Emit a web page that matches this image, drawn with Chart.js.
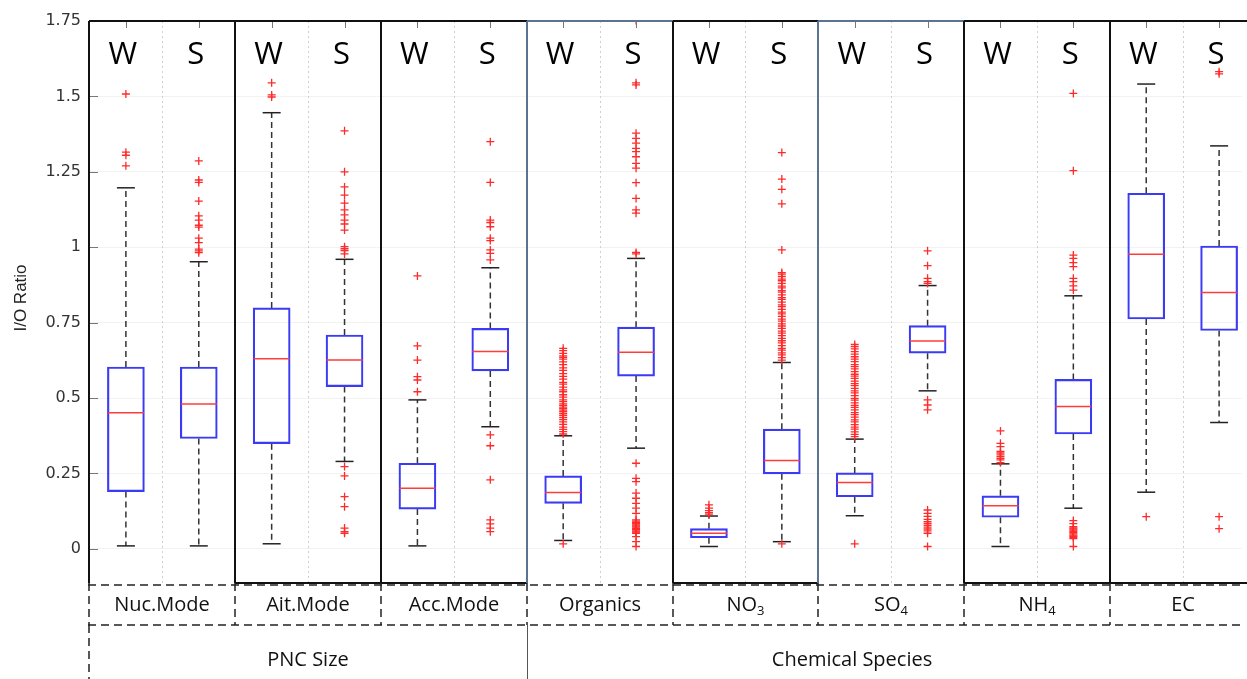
<!DOCTYPE html>
<html>
<head>
<meta charset="utf-8">
<script src="https://cdn.jsdelivr.net/npm/chart.js@4.4.1/dist/chart.umd.min.js"></script>
<style>
body{margin:0;background:#fff;overflow:hidden;}
#wrap{width:1247px;height:679px;position:relative;}
</style>
</head>
<body>
<div id="wrap"><canvas id="ioChart"></canvas></div>
<script>
// categories along the bottom, each with a winter (W) and summer (S) box
const categories = ['Nuc.Mode','Ait.Mode','Acc.Mode','Organics','NO','SO','NH','EC'];
const categorySub = ['','','','','3','4','4',''];
const seasons = ['W','S'];
const groupNames = ['PNC Size','Chemical Species'];
const groupSpan = [3,5];

const yTicks = [0,0.25,0.5,0.75,1,1.25,1.5,1.75];
const yTickLabels = ['0','0.25','0.5','0.75','1','1.25','1.5','1.75'];

// box statistics, order: Nuc W, Nuc S, Ait W, Ait S, ... EC W, EC S
const whiskerLow  = [0.010,0.010,0.017,0.290,0.010,0.405,0.028,0.334,0.008,0.024,0.110,0.524,0.008,0.135,0.188,0.419];
const q1          = [0.190,0.366,0.349,0.538,0.132,0.590,0.151,0.573,0.037,0.249,0.173,0.649,0.105,0.381,0.762,0.724];
const median      = [0.451,0.480,0.630,0.626,0.201,0.654,0.187,0.652,0.052,0.293,0.220,0.689,0.143,0.472,0.977,0.850];
const q3          = [0.603,0.603,0.799,0.709,0.284,0.731,0.242,0.735,0.067,0.397,0.252,0.740,0.176,0.562,1.179,1.004];
const whiskerHigh = [1.197,0.952,1.446,0.960,0.494,0.932,0.375,0.963,0.109,0.618,0.364,0.873,0.282,0.839,1.541,1.336];

const outliers = [
  [1.508,1.315,1.305,1.270],
  [1.286,1.223,1.215,1.153,1.104,1.090,1.073,1.067,1.030,1.015,0.994,0.988,0.982],
  [1.545,1.505,1.498],
  [1.386,1.250,1.200,1.173,1.146,1.124,1.107,1.090,1.077,1.057,1.002,0.995,0.989,0.978,
   0.273,0.242,0.173,0.140,0.069,0.057,0.052],
  [0.905,0.673,0.626,0.571,0.560,0.521],
  [1.350,1.215,1.090,1.082,1.068,1.030,1.022,0.991,0.980,0.958,
   0.378,0.342,0.229,0.096,0.083,0.069,0.057],
  [0.665,0.657,0.648,0.640,0.635,0.629,0.620,0.611,0.600,0.592,0.581,0.572,0.563,0.552,0.546,0.536,
   0.527,0.521,0.511,0.503,0.494,0.488,0.481,0.476,0.470,0.465,0.460,0.455,0.449,0.443,0.436,0.429,
   0.421,0.413,0.404,0.396,0.389,0.381,0.017],
  [1.752,1.545,1.538,1.378,1.361,1.345,1.328,1.317,1.300,1.278,1.262,1.214,1.162,1.124,1.113,0.983,0.978,
   0.284,0.234,0.223,0.185,0.168,0.151,0.135,0.118,0.096,0.092,0.088,0.084,0.080,0.076,0.072,0.068,
   0.064,0.060,0.056,0.052,0.041,0.024,0.008],
  [0.146,0.135,0.127,0.120,0.115],
  [1.314,1.226,1.192,1.144,0.991,0.916,0.911,0.903,0.894,0.889,0.880,0.871,0.865,0.856,0.851,0.842,
   0.833,0.827,0.818,0.809,0.803,0.794,0.785,0.779,0.771,0.762,0.755,0.746,0.739,0.731,0.722,0.715,
   0.707,0.698,0.690,0.683,0.674,0.665,0.659,0.650,0.643,0.634,0.626,0.017],
  [0.678,0.671,0.663,0.654,0.646,0.637,0.629,0.621,0.611,0.604,0.597,0.588,0.579,0.573,0.565,0.556,
   0.548,0.541,0.532,0.524,0.517,0.508,0.499,0.493,0.484,0.476,0.469,0.461,0.452,0.445,0.437,0.428,
   0.421,0.412,0.404,0.397,0.388,0.380,0.372,0.017],
  [0.988,0.939,0.897,0.886,0.880,0.494,0.477,0.461,
   0.129,0.118,0.108,0.098,0.090,0.084,0.078,0.072,0.066,0.060,0.052,0.008],
  [0.391,0.350,0.339,0.323,0.318,0.312,0.306,0.300,0.295,0.286],
  [1.510,1.254,0.974,0.963,0.949,0.936,0.897,0.886,0.872,0.858,
   0.094,0.084,0.074,0.070,0.066,0.062,0.058,0.054,0.050,0.046,0.042,0.038,0.034,0.008],
  [0.107],
  [1.582,1.575,0.107,0.067]
];

const boxData = q1.map((v,i) => ({x: i+1, y: [v, q3[i]]}));
let outlierData = [];
outliers.forEach((list,i) => list.forEach(v => outlierData.push({x: i+1, y: v})));

function seg(ctx,x1,y1,x2,y2){
  ctx.beginPath(); ctx.moveTo(x1,y1); ctx.lineTo(x2,y2); ctx.stroke();
}

const boxParts = {
  id: 'boxParts',
  beforeDatasetsDraw(chart){
    const ctx = chart.ctx, a = chart.chartArea, x = chart.scales.x, y = chart.scales.y;
    ctx.save();
    // dotted separators between the W and S boxes
    ctx.strokeStyle = '#cfcfcf'; ctx.lineWidth = 1; ctx.setLineDash([2,3]);
    for(let k=0;k<categories.length;k++){
      const px = Math.round(x.getPixelForValue(2*k+1.5)) + 0.5;
      seg(ctx,px,a.top,px,a.bottom);
    }
    // whiskers
    ctx.strokeStyle = '#333'; ctx.lineWidth = 1.5; ctx.setLineDash([6,4]);
    for(let i=0;i<q1.length;i++){
      const px = x.getPixelForValue(i+1);
      seg(ctx,px,y.getPixelForValue(q3[i]),px,y.getPixelForValue(whiskerHigh[i]));
      seg(ctx,px,y.getPixelForValue(q1[i]),px,y.getPixelForValue(whiskerLow[i]));
    }
    ctx.setLineDash([]); ctx.strokeStyle = '#222';
    for(let i=0;i<q1.length;i++){
      const px = x.getPixelForValue(i+1);
      seg(ctx,px-9,y.getPixelForValue(whiskerHigh[i]),px+9,y.getPixelForValue(whiskerHigh[i]));
      seg(ctx,px-9,y.getPixelForValue(whiskerLow[i]),px+9,y.getPixelForValue(whiskerLow[i]));
    }
    ctx.restore();
  },
  afterDatasetsDraw(chart){
    const ctx = chart.ctx, x = chart.scales.x, y = chart.scales.y;
    ctx.save();
    ctx.strokeStyle = '#ff3b3b'; ctx.lineWidth = 1.5;
    for(let i=0;i<median.length;i++){
      const px = x.getPixelForValue(i+1), py = y.getPixelForValue(median[i]);
      seg(ctx,px-18,py,px+18,py);
    }
    ctx.restore();
  },
  afterDraw(chart){
    const ctx = chart.ctx, a = chart.chartArea, x = chart.scales.x, y = chart.scales.y;
    const edge = k => Math.round(x.getPixelForValue(2*k+0.5));
    ctx.save();

    // small inward ticks
    ctx.strokeStyle = '#777'; ctx.lineWidth = 1;
    yTicks.forEach(v => { const py = Math.round(y.getPixelForValue(v))+0.5; seg(ctx,a.left,py,a.left+10,py); });
    for(let i=0;i<q1.length;i++){
      const px = Math.round(x.getPixelForValue(i+1))+0.5;
      seg(ctx,px,a.top,px,a.top+7);
    }

    // season letters above each box
    ctx.fillStyle = '#000'; ctx.font = '31px "Open Sans"';
    ctx.textAlign = 'center'; ctx.textBaseline = 'alphabetic';
    for(let i=0;i<q1.length;i++){
      ctx.fillText(seasons[i%2], x.getPixelForValue(i+1)-3, a.top+43);
    }

    // panel frames
    const slate = [3,5];
    const solidBottom = [1,2,4,6,7];
    ctx.lineWidth = 2;
    for(let k=0;k<categories.length;k++){
      const l = edge(k), r = edge(k+1);
      ctx.strokeStyle = slate.includes(k) ? '#5a7391' : '#111';
      seg(ctx,l,a.top,r,a.top);
      seg(ctx,l,a.top,l,a.bottom);
      if(solidBottom.includes(k)){ ctx.strokeStyle = '#111'; seg(ctx,l,a.bottom,r,a.bottom); }
    }

    // category row with dashed cells
    const rowTop = a.bottom, rowBot = a.bottom + 42, bottom = chart.height;
    ctx.strokeStyle = '#222'; ctx.lineWidth = 1.5; ctx.setLineDash([8,5]);
    seg(ctx,a.left,rowTop+2,a.right,rowTop+2);
    seg(ctx,a.left,rowBot,a.right,rowBot);
    for(let k=0;k<categories.length;k++){ seg(ctx,edge(k),rowTop,edge(k),rowBot); }
    seg(ctx,edge(0),rowBot,edge(0),bottom);
    ctx.setLineDash([]); ctx.lineWidth = 1; ctx.strokeStyle = '#555';
    seg(ctx,edge(groupSpan[0])+0.5,rowBot,edge(groupSpan[0])+0.5,bottom);

    ctx.fillStyle = '#111'; ctx.textBaseline = 'middle';
    for(let k=0;k<categories.length;k++){
      const cx = (edge(k)+edge(k+1))/2, cy = rowTop + 22;
      ctx.font = '20px "Open Sans"';
      const w = ctx.measureText(categories[k]).width;
      ctx.font = '13px "Open Sans"';
      const ws = categorySub[k] ? ctx.measureText(categorySub[k]).width : 0;
      let sx = cx - (w+ws)/2;
      ctx.textAlign = 'left';
      ctx.font = '20px "Open Sans"';
      ctx.fillText(categories[k], sx, cy);
      if(categorySub[k]){
        ctx.font = '13px "Open Sans"';
        ctx.fillText(categorySub[k], sx+w, cy+6);
      }
    }

    // group labels
    ctx.textAlign = 'center'; ctx.font = '20px "Open Sans"';
    let start = 0;
    groupNames.forEach((g,j) => {
      const l = edge(start), r = edge(start+groupSpan[j]);
      const cx = j === 0 ? (l+r)/2 : l + 325;
      ctx.fillText(g, cx, rowBot + 35);
      start += groupSpan[j];
    });

    // y axis title
    ctx.translate(21, 298); ctx.rotate(-Math.PI/2);
    ctx.font = '17px "Liberation Sans"'; ctx.fillStyle = '#222';
    ctx.fillText('I/O Ratio', 0, 0);
    ctx.restore();
  }
};

const ctx = document.getElementById('ioChart').getContext('2d');

const ioChart = new Chart(ctx, {
  type: 'bar',
  data: {
    datasets: [{
      type: 'bar',
      data: boxData,
      backgroundColor: 'rgba(255,255,255,0)',
      borderColor: '#3b3bf5',
      borderWidth: 1.5,
      borderSkipped: false,
      barThickness: 37,
      order: 2
    },{
      type: 'scatter',
      data: outlierData,
      pointStyle: 'cross',
      radius: 4,
      borderColor: '#ff2a2a',
      borderWidth: 1.3,
      order: 1
    }]
  },
  options: {
    responsive: true,
    maintainAspectRatio: false,
    animation: false,
    layout: { padding: { top: 21, bottom: 96, left: 0, right: 0 } },
    plugins: { legend: { display: false }, tooltip: { enabled: false } },
    scales: {
      x: { type: 'linear', min: 0.48, max: 16.31, offset: false, display: false },
      y: {
        min: -0.113, max: 1.75,
        border: { display: false },
        grid: { color: '#f2f2f2', drawTicks: false },
        afterBuildTicks: s => { s.ticks = yTicks.map(v => ({value: v})); },
        afterFit: s => { s.width = 88; },
        ticks: {
          padding: 7,
          color: '#333',
          font: { family: 'DejaVu Sans', size: 16 },
          callback: (v, i) => yTickLabels[i]
        }
      }
    }
  },
  plugins: [boxParts]
});
</script>
</body>
</html>
